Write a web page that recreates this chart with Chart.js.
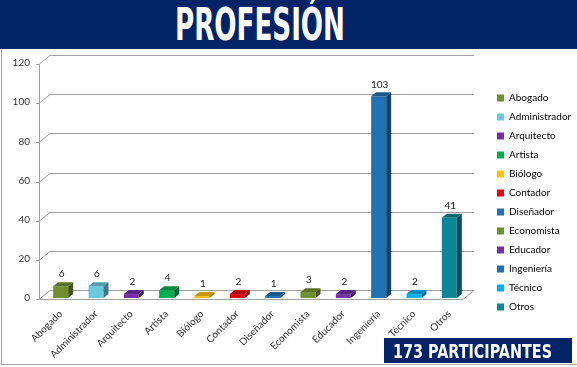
<!DOCTYPE html>
<html><head><meta charset="utf-8">
<script src="https://cdn.jsdelivr.net/npm/chart.js@4/dist/chart.umd.min.js"></script>
<style>
html,body{margin:0;padding:0;background:#fff;width:577px;height:367px;overflow:hidden;position:relative;font-family:Lato,sans-serif}
#wrap{position:absolute;left:0;top:0;width:577px;height:367px}
#frame{position:absolute;left:1px;top:49px;width:576px;height:315px;border-left:1px solid #a6a6a6;border-bottom:1px solid #a6a6a6}
#banner{position:absolute;left:0;top:0;width:577px;height:49px;background:#032367;overflow:hidden}
.cond{font-weight:bold;font-family:"DejaVu Sans Condensed","Liberation Sans Narrow",sans-serif;white-space:nowrap;color:#fff;position:absolute}
#title{left:175px;top:0;height:49px;line-height:50px;font-size:45px;transform-origin:left center}
#box{position:absolute;left:384px;top:338px;width:188px;height:25px;background:#032367}
#boxtxt{left:393px;top:338px;height:25px;line-height:26px;font-size:20px;transform-origin:left center}
</style></head>
<body>
<div id="wrap"><canvas id="c" width="577" height="367"></canvas></div>
<div id="frame"></div>
<div id="banner"><div id="title" class="cond">PROFESIÓN</div></div>
<div id="box"></div>
<div id="boxtxt" class="cond">173 PARTICIPANTES</div>
<script>
const categories = ['Abogado','Administrador','Arquitecto','Artista','Biólogo','Contador','Diseñador','Economista','Educador','Ingeniería','Técnico','Otros'];
const counts = [6,6,2,4,1,2,1,3,2,103,2,41];
const barColors = ['#6f8f30','#6cc8df','#7430a2','#00b050','#ffc000','#e8000b','#2271b3','#6f8f30','#7430a2','#2271b3','#00b0f0','#0e8594'];
const yMin = 0, yMax = 120, yStep = 20;

function fitWidth(id, w){
  const el = document.getElementById(id);
  const nat = el.getBoundingClientRect().width;
  el.style.transform = 'scaleX(' + (w / nat) + ')';
}
fitWidth('title', 170);
fitWidth('boxtxt', 159);

const FONT = 'Lato';

function shade(hex, f){
  const n = parseInt(hex.slice(1),16);
  const r = Math.round(((n>>16)&255)*f), g = Math.round(((n>>8)&255)*f), b = Math.round((n&255)*f);
  return `rgb(${r},${g},${b})`;
}

const threeD = {
  id:'threeD',
  beforeDatasetsDraw(chart){
    const ctx = chart.ctx, ys = chart.scales.y, a = chart.chartArea;
    const fx = -4, fy = 1, bx = 7, by = -8;
    ctx.save();
    ctx.strokeStyle = '#a0a0a0';
    ctx.lineWidth = 1;
    for (let v = yMin; v <= yMax; v += yStep){
      const y = Math.round(ys.getPixelForValue(v)) + 0.5;
      ctx.beginPath();
      ctx.moveTo(a.left + fx - 3, y + fy);
      ctx.lineTo(a.left + fx, y + fy);
      ctx.lineTo(a.left + bx, y + by);
      ctx.lineTo(a.right + bx, y + by);
      ctx.stroke();
    }
    const y0 = Math.round(ys.getPixelForValue(0)) + 0.5;
    ctx.beginPath();
    ctx.moveTo(a.left + fx, y0 + fy);
    ctx.lineTo(a.right + fx, y0 + fy);
    ctx.lineTo(a.right + bx, y0 + by);
    ctx.stroke();
    const yt = Math.round(ys.getPixelForValue(yMax)) + 0.5;
    ctx.beginPath();
    ctx.moveTo(a.left + fx + 0.5, yt + fy);
    ctx.lineTo(a.left + fx + 0.5, y0 + fy);
    ctx.stroke();
    ctx.restore();
  },
  afterDatasetsDraw(chart){
    const ctx = chart.ctx;
    const meta = chart.getDatasetMeta(0);
    const dx = 5, dy = 4;
    ctx.save();
    meta.data.forEach((bar, i) => {
      const p = bar.getProps(['x','y','base','width'], true);
      const l = p.x - p.width/2, r = p.x + p.width/2;
      const col = barColors[i];
      ctx.fillStyle = shade(col, 0.78);
      ctx.beginPath();
      ctx.moveTo(l, p.y); ctx.lineTo(r, p.y); ctx.lineTo(r+dx, p.y-dy); ctx.lineTo(l+dx, p.y-dy); ctx.closePath();
      ctx.fill();
      ctx.fillStyle = shade(col, 0.6);
      ctx.beginPath();
      ctx.moveTo(r, p.y); ctx.lineTo(r+dx, p.y-dy); ctx.lineTo(r+dx, p.base-dy); ctx.lineTo(r, p.base); ctx.closePath();
      ctx.fill();
      ctx.fillStyle = '#222';
      ctx.font = '10px ' + FONT;
      ctx.textAlign = 'center';
      ctx.textBaseline = 'middle';
      ctx.fillText(String(counts[i]), p.x + 1, p.y - dy - 8);
    });
    ctx.restore();
  }
};

const chart = new Chart(document.getElementById('c'), {
  type:'bar',
  data:{
    labels: categories,
    datasets:[{
      data: counts,
      backgroundColor: barColors,
      borderWidth: 0,
      barPercentage: 0.425,
      categoryPercentage: 1
    }]
  },
  options:{
    responsive:false,
    animation:false,
    layout:{padding:{top:38,right:0,bottom:0,left:0}},
    plugins:{
      tooltip:{enabled:false},
      legend:{
        position:'right',
        align:'center',
        onClick:null,
        labels:{
          boxWidth:7, boxHeight:7, padding:9,
          color:'#333',
          font:{family:FONT,size:10},
          generateLabels: () => categories.map((c,i)=>({text:c, fillStyle:barColors[i], strokeStyle:barColors[i], lineWidth:0, hidden:false, index:i}))
        }
      }
    },
    scales:{
      x:{
        grid:{display:false, drawTicks:false},
        border:{display:false},
        ticks:{autoSkip:false, maxRotation:45, minRotation:45, padding:10, color:'#333', font:{family:FONT,size:10}},
        afterFit: s => { s.height = 69; }
      },
      x2:{
        type:'linear',
        position:'top',
        display:true,
        grid:{display:false, drawTicks:false},
        border:{display:false},
        ticks:{display:false},
        afterFit: s => { s.height = 25; }
      },
      y:{
        min:yMin, max:yMax,
        grid:{display:false, drawTicks:false},
        border:{display:false},
        ticks:{stepSize:yStep, padding:13, color:'#333', font:{family:FONT,size:10}},
        afterFit: s => { s.width = 43; }
      },
      y2:{
        position:'right',
        display:true,
        grid:{display:false, drawTicks:false},
        border:{display:false},
        ticks:{display:false},
        afterFit: s => { s.width = 21; }
      }
    }
  },
  plugins:[threeD]
});
const diff = chart.legend.left - 488;
if (Math.abs(diff) > 0.5) {
  chart.options.layout.padding.right += diff;
  chart.update();
}
</script>
</body></html>
